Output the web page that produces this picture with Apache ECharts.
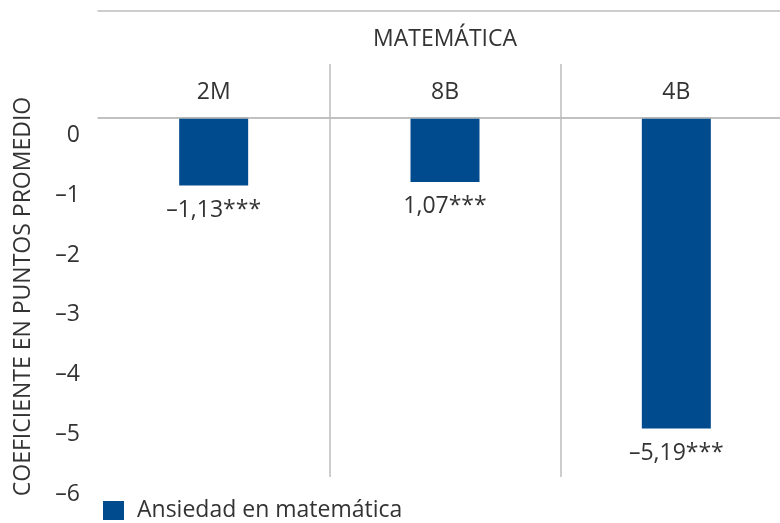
<!DOCTYPE html>
<html>
<head>
<meta charset="utf-8">
<script src="https://cdn.jsdelivr.net/npm/echarts@6/dist/echarts.min.js"></script>
<style>
html,body{margin:0;padding:0;background:#fff;}
#chart{width:780px;height:523px;}
</style>
</head>
<body>
<div id="chart"></div>
<script>
const groupTitle = 'MATEMÁTICA';
const categories = ['2M', '8B', '4B'];
const seriesName = 'Ansiedad en matemática';
const values = [-1.13, -1.07, -5.19];
const valueLabels = ['–1,13***', '1,07***', '–5,19***'];
const yTicks = [0, -1, -2, -3, -4, -5, -6];
const yTickLabels = ['0', '–1', '–2', '–3', '–4', '–5', '–6'];
const yTitle = 'COEFICIENTE EN PUNTOS PROMEDIO';

const FONT = '"Open Sans", sans-serif';
const FS = 23;
const TXT = '#333333';
const LINE = '#bdbdbd';
const BAR = '#004b8d';

const chart = echarts.init(document.getElementById('chart'), null, {renderer: 'canvas'});
chart.setOption({
  animation: false,
  backgroundColor: '#ffffff',
  textStyle: {fontFamily: FONT},
  title: {
    text: groupTitle,
    left: 445,
    textAlign: 'center',
    top: 28,
    padding: 0,
    textStyle: {fontFamily: FONT, fontSize: FS, fontWeight: 'normal', color: TXT}
  },
  legend: {
    data: [seriesName],
    left: 103,
    top: 499,
    padding: 0,
    icon: 'rect',
    itemWidth: 21,
    itemHeight: 19,
    textStyle: {fontFamily: FONT, fontSize: FS, color: TXT, padding: [0, 0, 0, 8]}
  },
  grid: {left: 98, width: 694, top: 64, height: 413, containLabel: false, outerBoundsMode: 'none'},
  xAxis: [{
    type: 'category',
    data: categories,
    position: 'top',
    axisLine: {show: true, lineStyle: {color: LINE, width: 1.5}},
    axisTick: {show: false},
    axisLabel: {inside: true, margin: 17, fontFamily: FONT, fontSize: FS, color: TXT},
    splitLine: {show: true, showMinLine: false, lineStyle: {color: LINE, width: 1.5}}
  }, {
    type: 'category',
    data: categories,
    position: 'top',
    offset: 53,
    axisLine: {show: true, lineStyle: {color: LINE, width: 1.5}},
    axisTick: {show: false},
    axisLabel: {show: false},
    splitLine: {show: false}
  }],
  yAxis: {
    type: 'value',
    min: -6,
    max: 0.9,
    interval: 1,
    name: yTitle,
    nameLocation: 'middle',
    nameGap: 63,
    nameTextStyle: {fontFamily: FONT, fontSize: FS, color: TXT, padding: [0, 52, 0, 0]},
    axisLine: {show: false},
    axisTick: {show: false},
    splitLine: {show: false},
    axisLabel: {
      margin: 18,
      fontFamily: FONT,
      fontSize: FS,
      color: TXT,
      verticalAlign: 'top',
      padding: [6, 0, 0, 0],
      formatter: function (v) {
        const i = yTicks.findIndex(t => Math.abs(t - v) < 1e-6);
        return i >= 0 ? yTickLabels[i] : '';
      }
    }
  },
  series: [{
    name: seriesName,
    type: 'bar',
    data: values,
    barWidth: 69,
    itemStyle: {color: BAR},
    label: {
      show: true,
      position: 'bottom',
      distance: 13,
      fontFamily: FONT,
      fontSize: FS,
      color: TXT,
      formatter: function (p) { return valueLabels[p.dataIndex]; }
    },
    markLine: {
      silent: true,
      symbol: 'none',
      label: {show: false},
      lineStyle: {color: LINE, width: 1.5, type: 'solid'},
      data: [{yAxis: 0}]
    }
  }]
});
</script>
</body>
</html>
